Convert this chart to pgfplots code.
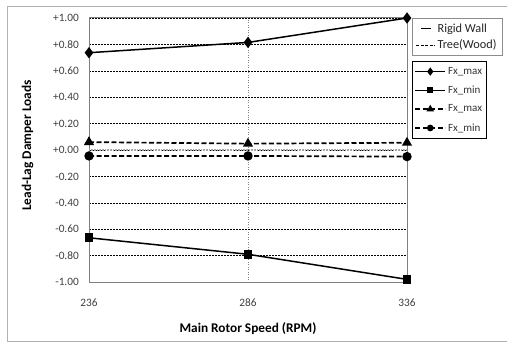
\documentclass[border=0pt]{standalone}
\usepackage{fontspec}
\setmainfont{Carlito}
\usepackage{pgfplots}
\pgfplotsset{compat=1.18}
\begin{document}
\begin{tikzpicture}[x=1bp,y=1bp]
\useasboundingbox (0,0) rectangle (507,343);
\fill[white] (0,0) rectangle (507,343);
\draw[black!30, line width=0.8bp] (512,1.5) -- (7,1.5) -- (7,337) -- (512,337);
\begin{axis}[
  at={(89bp,61bp)}, anchor=south west,
  scale only axis, width=318bp, height=264bp,
  xmin=236, xmax=336, ymin=-1, ymax=1,
  clip=false,
  xtick={236,286,336},
  xticklabels={236,286,336},
  ytick={-1,-0.8,-0.6,-0.4,-0.2,0,0.2,0.4,0.6,0.8,1},
  yticklabels={-1.00,-0.80,-0.60,-0.40,-0.20,+0.00,+0.20,+0.40,+0.60,+0.80,+1.00},
  major tick length=0pt,
  tick label style={font=\fontsize{11.3bp}{13bp}\selectfont, text=black!75},
  xticklabel style={anchor=center, yshift=-21bp},
  yticklabel style={anchor=east, inner sep=0pt, xshift=-10bp},
  xlabel={Main Rotor Speed (RPM)},
  ylabel={Lead-Lag Damper Loads},
  label style={font=\bfseries\fontsize{13.3bp}{15bp}\selectfont},
  xlabel style={at={(axis description cs:0.5,-0.178)}, anchor=center},
  ylabel style={at={(axis description cs:-0.193,0.517)}, anchor=center, rotate=0},
  axis line style={black!50, line width=1bp},
  xmajorgrids, ymajorgrids,
  every axis x grid/.style={black!50, line width=0.5bp, dotted},
  every axis y grid/.style={black, line width=0.5bp, dash pattern=on 2bp off 1bp},
  extra y ticks={0}, extra y tick labels={},
  extra y tick style={every axis y grid/.style={black!35, line width=1.6bp, dash pattern=on 1bp off 0.6bp}},
  legend style={at={(axis description cs:1.0145,0.837)}, anchor=north west,
    draw=black, line width=0.6bp, fill=white,
    font=\fontsize{11bp}{12bp}\selectfont, text=black!80,
    row sep=6bp, inner xsep=2.5bp, inner ysep=4bp},
  legend cell align=left,
  legend image code/.code={
    \draw[mark repeat=2,mark phase=2,#1,/tikz/mark options={solid,scale=0.65}]
      plot coordinates {(0bp,0bp) (15bp,0bp) (30bp,0bp)};},
]
\addplot[black, line width=1.5bp, mark=diamond*, mark size=4.5bp]
  coordinates {(236,0.737) (286,0.815) (336,1.00)};
\addlegendentry{Fx\_max}
\addplot[black, line width=1.5bp, mark=square*, mark size=3.6bp]
  coordinates {(236,-0.665) (286,-0.79) (336,-0.98)};
\addlegendentry{Fx\_min}
\addplot[black, line width=1.7bp, dash pattern=on 5bp off 2.5bp, mark=triangle*, mark size=4.2bp, mark options={solid}]
  coordinates {(236,0.06) (286,0.048) (336,0.055)};
\addlegendentry{Fx\_max}
\addplot[black, line width=1.7bp, dash pattern=on 5bp off 2.5bp, mark=*, mark size=3.8bp, mark options={solid}]
  coordinates {(236,-0.045) (286,-0.045) (336,-0.05)};
\addlegendentry{Fx\_min}
\end{axis}
\begin{axis}[
  at={(89bp,61bp)}, anchor=south west,
  scale only axis, width=318bp, height=264bp,
  xmin=0, xmax=1, ymin=0, ymax=1, hide axis,
  legend style={at={(axis description cs:1.0145,0.999)}, anchor=north west,
    draw=black!45, line width=0.8bp, fill=white,
    font=\fontsize{12.3bp}{14bp}\selectfont, text=black!85,
    row sep=2bp, inner xsep=4bp, inner ysep=3bp},
  legend cell align=left,
]
\addlegendimage{legend image code/.code={\draw[black, line width=1.5bp] (5bp,0bp) -- (15bp,0bp);}}
\addlegendentry{Rigid Wall}
\addlegendimage{legend image code/.code={\draw[black, line width=0.6bp, dash pattern=on 3bp off 1.5bp] (0bp,0bp) -- (19bp,0bp);}}
\addlegendentry{Tree(Wood)}
\end{axis}
\end{tikzpicture}
\end{document}
